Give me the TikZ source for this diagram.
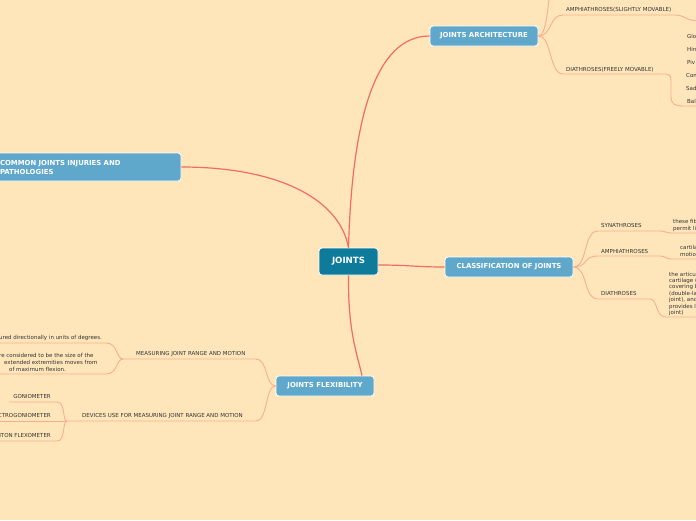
\documentclass[tikz,border=0pt]{standalone}
\usepackage{fontspec}
\setmainfont{DejaVu Sans}
\usetikzlibrary{calc}
\definecolor{bg}{HTML}{FFE6BA}
\definecolor{maincol}{HTML}{0F7B9B}
\definecolor{subcol}{HTML}{5FA7CB}
\definecolor{redline}{HTML}{F26B67}
\definecolor{pinkline}{HTML}{F8AE8E}
\definecolor{txt}{HTML}{333333}
\begin{document}
\begin{tikzpicture}[x=1pt,y=-1pt,
  rootbox/.style={draw=white, line width=0.8pt, fill=maincol, rounded corners=3pt, text=white,
    font=\fontsize{8.6}{10}\bfseries\selectfont, minimum width=59pt, minimum height=27pt, inner sep=0pt},
  topicbox/.style={draw=white, line width=0.8pt, fill=subcol, rounded corners=3pt, text=white,
    font=\fontsize{6.9}{9}\bfseries\selectfont, minimum height=20pt, inner sep=0pt},
  mainline/.style={draw=redline, line width=1.2pt},
  subline/.style={draw=pinkline, line width=0.9pt},
  lbl/.style={text=txt, font=\fontsize{5.5}{6.4}\selectfont, inner sep=0pt, anchor=base west},
  lble/.style={text=txt, font=\fontsize{5.5}{6.4}\selectfont, inner sep=0pt, anchor=base east},
]
\fill[bg] (0,0) rectangle (696,520);
\useasboundingbox (0,0) rectangle (696,520);
\clip (0,0) rectangle (696,520);

% ---------- boxes ----------
\node[rootbox] (root) at (348.5,261.5) {JOINTS};
\node[topicbox, minimum width=108pt] (arch) at (484,36) {JOINTS ARCHITECTURE};
\node[topicbox, minimum width=128pt] (class) at (509,267) {CLASSIFICATION OF JOINTS};
\node[topicbox, minimum width=98pt] (flex) at (325,386) {JOINTS FLEXIBILITY};
\node[topicbox, minimum height=28pt, text width=171pt, inner xsep=10pt, align=left,
  font=\fontsize{6.9}{9}\bfseries\selectfont] (common) at (85.5,167)
  {COMMON JOINTS INJURIES AND\\PATHOLOGIES};

% ---------- main connectors ----------
\draw[mainline] (root.north) .. controls (352,120) and (375,36) .. (arch.west);
\draw[mainline] (root.north) .. controls (340,200) and (280,167) .. (common.east);
\draw[mainline] ($(root.east)+(0,3.5)$) .. controls (410,265) and (415,267) .. (class.west);
\draw[mainline] (root.south) .. controls (348,330) and (356,350) .. ($(flex.north)+(37,0)$);

% ---------- architecture branches ----------
\coordinate (archup) at (563,-45);
\draw[subline] (arch.east) .. controls (552,36) and (546,-45) .. (archup);
\coordinate (amend) at (700,21);
\draw[subline] (arch.east) .. controls (552,36) and (549,15) .. (563,15) -- (675,15)
  .. controls (685,15) and (686,21) .. (amend);
\coordinate (diend) at (700,106);
\draw[subline] (arch.east) .. controls (552,36) and (549,74) .. (563,74) -- (666,74)
  .. controls (671,74) and (671,78) .. (671,84) -- (671,97)
  .. controls (671,104) and (675,106) .. (684,106) -- (diend);
\node[lbl] (am1) at (566,11) {AMPHIATHROSES(SLIGHTLY MOVABLE)};
\node[lbl] (di1) at (566,71) {DIATHROSES(FREELY MOVABLE)};
\node[lbl] (g1) at (687,38) {Glo};
\node[lbl] (g2) at (687,51) {Hin};
\node[lbl] (g3) at (687,64) {Piv};
\node[lbl] (g4) at (686,77) {Con};
\node[lbl] (g5) at (686,90) {Sad};
\node[lbl] (g6) at (687,103) {Bal};

% ---------- classification branches ----------
\coordinate (synend) at (700,233);
\coordinate (ampend) at (700,259);
\coordinate (diaend) at (700,317);
\draw[subline] (class.east) .. controls (588,267) and (583,231) .. (598,231) -- (660,231)
  .. controls (666,231) and (665,233) .. (672,233) -- (synend);
\draw[subline] (class.east) .. controls (588,267) and (583,256) .. (598,256) -- (660,256)
  .. controls (666,256) and (665,259) .. (672,259) -- (ampend);
\draw[subline] (class.east) .. controls (588,267) and (583,299) .. (598,299) -- (650,299)
  .. controls (658,299) and (655,317) .. (666,317) -- (diaend);
\node[lbl] (syn) at (601,227.5) {SYNATHROSES};
\node[lbl] (amp) at (601,253) {AMPHIATHROSES};
\node[lbl] (dia) at (601,295) {DIATHROSES};
\node[lbl] (syn1) at (673,223) {these fib};
\node[lbl] (syn2) at (673,230) {permit li};
\node[lbl] (amp1) at (680,249) {cartila};
\node[lbl] (amp2) at (680,256) {motio};
\node[lbl] (d1) at (669,276) {the articul};
\node[lbl] (d2) at (669,282.4) {cartilage (};
\node[lbl] (d3) at (669,288.8) {covering b};
\node[lbl] (d4) at (669,295.2) {(double-la};
\node[lbl] (d5) at (669,301.6) {joint), and};
\node[lbl] (d6) at (669,308) {provides l};
\node[lbl] (d7) at (669,314.4) {joint)};

% ---------- flexibility branches ----------
\coordinate (mj) at (123,359);
\coordinate (dj) at (67,421);
\draw[subline] (flex.west) .. controls (265,386) and (268,359) .. (256,359) -- (mj);
\draw[subline] (flex.west) .. controls (265,386) and (268,421) .. (256,421) -- (dj);
\node[lbl] (meas) at (136,355) {MEASURING JOINT RANGE AND MOTION};
\node[lbl] (dev) at (82,417) {DEVICES USE FOR MEASURING JOINT RANGE AND MOTION};

\coordinate (m1end) at (-5,343);
\coordinate (m2end) at (-5,374);
\draw[subline] (mj) .. controls (116,359) and (118,343) .. (106,343) -- (m1end);
\draw[subline] (mj) .. controls (116,359) and (118,374) .. (106,374) -- (m2end);
\node[lbl] (mt1) at (-1,339) {ured directionally in units of degrees.};
\node[lbl] (mt2) at (-1,357) {re considered to be the size of the};
\node[lbl] (mt3) at (4,364) {extended extremities moves from};
\node[lbl] (mt4) at (9,371) {of maximum flexion.};

\coordinate (d1end) at (9,402);
\coordinate (d2end) at (-5,421);
\coordinate (d3end) at (-5,441);
\draw[subline] (dj) .. controls (62,421) and (66,402) .. (57,402) -- (d1end);
\draw[subline] (dj) -- (d2end);
\draw[subline] (dj) .. controls (62,421) and (66,441) .. (57,441) -- (d3end);
\node[lble] (gon) at (51,398) {GONIOMETER};
\node[lble] (egon) at (51,417) {ELECTROGONIOMETER};
\node[lble] (lflex) at (51,437) {LEIGHTON FLEXOMETER};
\end{tikzpicture}
\end{document}
